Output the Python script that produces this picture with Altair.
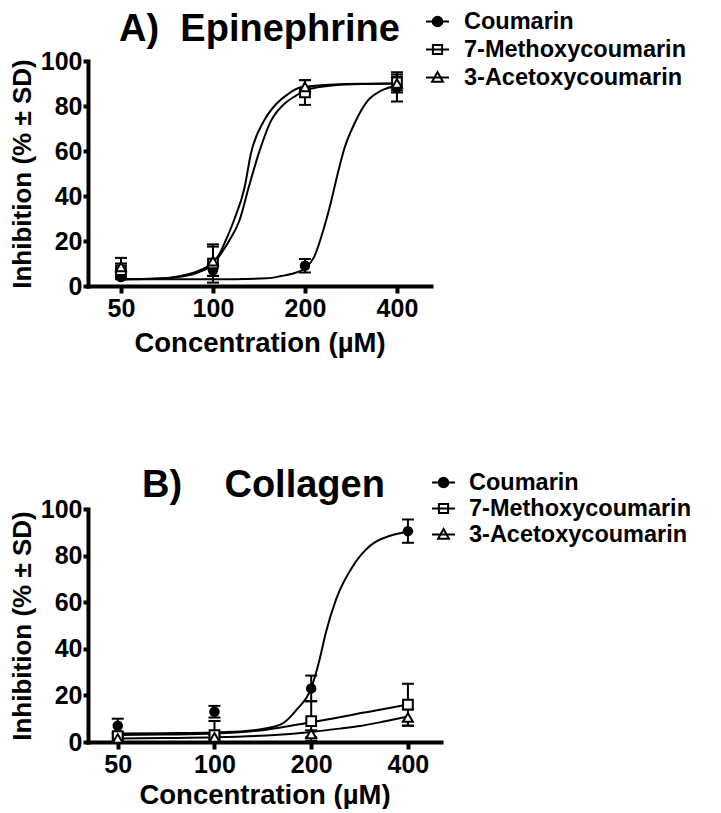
import altair as alt
import pandas as pd

FONT = "Liberation Sans"

SERIES = ["Coumarin", "7-Methoxycoumarin", "3-Acetoxycoumarin"]
CONC = [50, 100, 200, 400]
Y_TICKS = [0, 20, 40, 60, 80, 100]

# ---------- Panel A: Epinephrine (mean, SD) ----------
A_COU = [4, 7, 9, 88]
A_COU_SD = [1, 2.5, 3, 6]
A_MET = [7, 10, 86, 90.5]
A_MET_SD = [3, 8.5, 5.5, 4.5]
A_ACE = [8.5, 11, 88.5, 90]
A_ACE_SD = [4, 6.5, 3, 3]

# fitted curves
A_COU_CX = [50, 100, 150, 167, 185, 200, 214, 231, 243, 255, 269, 290, 321, 355, 400]
A_COU_CY = [3.0, 3.0, 3.4, 4.4, 5.8, 7.8, 12.7, 26, 37, 49, 61, 72, 82.4, 86.8, 89]
A_MET_CX = [50, 65, 79, 90, 100, 106, 113, 122, 131, 141, 155, 171, 187, 200, 250, 320, 400]
A_MET_CY = [3.0, 3.2, 4.2, 6.2, 9.8, 14.2, 20.1, 29, 44, 58.7, 73.5, 80.9, 84.6, 86.9, 89.2, 89.8, 90]
A_ACE_CX = [50, 65, 79, 90, 100, 105, 110, 117, 127, 133, 147, 161, 176, 194, 250, 320, 400]
A_ACE_CY = [3.0, 3.3, 4.6, 6.8, 10.5, 14.2, 20.1, 29, 44, 58.7, 73.5, 80.9, 85.3, 88.3, 89.6, 89.9, 90]

# ---------- Panel B: Collagen (mean, SD) ----------
B_COU = [7, 13, 23, 90.5]
B_COU_SD = [3, 2.5, 5.5, 5]
B_MET = [2.5, 3, 9, 16]
B_MET_SD = [1, 6, 8.5, 9]
B_ACE = [1.5, 2, 3.5, 10.5]
B_ACE_SD = [1, 1, 1.5, 3.5]

B_COU_CX = [50, 70, 100, 125, 145, 163, 180, 200, 212, 222, 239, 270, 305, 352, 400]
B_COU_CY = [3.6, 3.8, 4.1, 4.7, 5.9, 8.0, 13.8, 23.1, 35, 46.8, 61.2, 75.6, 84.2, 88.5, 90.2]
B_MET_CX = [50, 70, 100, 145, 200, 250, 283, 340, 400]
B_MET_CY = [3.0, 3.2, 3.6, 5.3, 8.5, 10.8, 12.3, 14.3, 16.1]
B_ACE_CX = [50, 70, 100, 145, 200, 250, 284, 340, 400]
B_ACE_CY = [1.5, 1.7, 2.0, 2.8, 4.3, 5.9, 6.9, 8.9, 10.9]

# legend symbols: line with marker
LEGEND_SHAPES = [
    "M-1,0L1,0M-0.42,0A0.42,0.42,0,1,0,0.42,0A0.42,0.42,0,1,0,-0.42,0Z",
    "M-1,0L1,0M-0.4,-0.4L0.4,-0.4L0.4,0.4L-0.4,0.4Z",
    "M-1,0L1,0M0,-0.48L0.47,0.36L-0.47,0.36Z",
]
LEGEND_FILLS = ["black", "white", "white"]
LEGEND_STROKES = ["black", "black", "black"]


def pts_frame(means, sds):
    rows = []
    for name, m, s in zip(SERIES, means, sds):
        for c, v, e in zip(CONC, m, s):
            rows.append({"series": name, "conc": c, "value": v, "lo": v - e, "hi": v + e})
    return pd.DataFrame(rows)


def curve_frame(xs_list, ys_list):
    rows = []
    for name, xs, ys in zip(SERIES, xs_list, ys_list):
        for c, v in zip(xs, ys):
            rows.append({"series": name, "conc": c, "value": v})
    return pd.DataFrame(rows)


def panel(title, title_offset, title_dx, pts, curves, xdom, w, h, xtitle_pad,
          leg_x, leg_y, leg_rowpad, leg_lo):
    xaxis = alt.Axis(values=CONC, format="d", title="Concentration (µM)", labelFlush=False,
                     tickSize=7, labelPadding=3, titlePadding=xtitle_pad, titleFontSize=27.5,
                     domainCap="square")
    yaxis = alt.Axis(values=Y_TICKS, title="Inhibition (% ± SD)", tickSize=5, labelPadding=1,
                     titlePadding=5, titleFontSize=26, domainCap="square")
    xs = alt.Scale(type="log", domain=xdom, nice=False)
    ys = alt.Scale(domain=[0, 100], nice=False, zero=False)
    X = alt.X("conc:Q", scale=xs, axis=xaxis)
    Yv = alt.Y("value:Q", scale=ys, axis=yaxis)

    base = alt.Chart(pts)
    rule = base.mark_rule(color="black", strokeWidth=2, clip=True).encode(
        X, alt.Y("lo:Q", scale=ys, axis=yaxis), alt.Y2("hi:Q"))
    cap_hi = base.mark_tick(orient="horizontal", size=12, thickness=2, color="black",
                            opacity=1, clip=True).encode(X, alt.Y("hi:Q", scale=ys, axis=yaxis))
    cap_lo = base.mark_tick(orient="horizontal", size=12, thickness=2, color="black",
                            opacity=1, clip=True).encode(X, alt.Y("lo:Q", scale=ys, axis=yaxis))
    line = alt.Chart(curves).mark_line(color="black", strokeWidth=2, interpolate="monotone").encode(
        X, Yv, detail="series:N")
    p_cou = base.transform_filter(alt.datum.series == SERIES[0]).mark_point(
        shape="circle", filled=True, color="black", size=110, opacity=1).encode(X, Yv)
    p_met = base.transform_filter(alt.datum.series == SERIES[1]).mark_point(
        shape="square", filled=True, fill="white", stroke="black", strokeWidth=2, size=95,
        opacity=1).encode(X, Yv)
    p_ace = base.transform_filter(alt.datum.series == SERIES[2]).mark_point(
        shape="triangle-up", filled=True, fill="white", stroke="black", strokeWidth=2, size=100,
        opacity=1).encode(X, Yv)

    legend = alt.Legend(orient="none", legendX=leg_x, legendY=leg_y, title=None,
                        symbolSize=529, symbolStrokeWidth=2, symbolOpacity=1,
                        rowPadding=leg_rowpad, labelOffset=leg_lo, padding=0, labelLimit=500)
    leg = base.mark_point(filled=True, strokeWidth=2, opacity=0).encode(
        X, Yv,
        shape=alt.Shape("series:N", scale=alt.Scale(domain=SERIES, range=LEGEND_SHAPES),
                        legend=legend),
        fill=alt.Fill("series:N", scale=alt.Scale(domain=SERIES, range=LEGEND_FILLS),
                      legend=legend),
        stroke=alt.Stroke("series:N", scale=alt.Scale(domain=SERIES, range=LEGEND_STROKES),
                          legend=legend),
    )

    return alt.layer(rule, cap_hi, cap_lo, line, p_cou, p_met, p_ace, leg).properties(
        width=w, height=h,
        title=alt.Title(title, anchor="middle", frame="group", offset=title_offset, dx=title_dx),
    )


pa = panel("A)\u00a0\u00a0Epinephrine", -40, 0,
           pts_frame([A_COU, A_MET, A_ACE], [A_COU_SD, A_MET_SD, A_ACE_SD]),
           curve_frame([A_COU_CX, A_MET_CX, A_ACE_CX], [A_COU_CY, A_MET_CY, A_ACE_CY]),
           [39, 517], 343, 225, 8, 337, -52, 4, 14)
pb = panel("B)\u00a0\u00a0\u00a0\u00a0Collagen", -35, -1,
           pts_frame([B_COU, B_MET, B_ACE], [B_COU_SD, B_MET_SD, B_ACE_SD]),
           curve_frame([B_COU_CX, B_MET_CX, B_ACE_CX], [B_COU_CY, B_MET_CY, B_ACE_CY]),
           [40.4, 507], 353, 233, 4, 343, -39, 2, 13)

chart = alt.vconcat(pa, pb, spacing=110).resolve_scale(
    shape="independent", fill="independent", stroke="independent"
).properties(
    padding={"left": 1, "top": 1, "right": 5, "bottom": 0}
).configure(font=FONT).configure_view(stroke=None).configure_axis(
    labelFont=FONT, labelFontSize=25, labelFontWeight="bold", labelColor="black",
    titleFont=FONT, titleFontWeight="bold", titleColor="black",
    domainColor="black", domainWidth=4, tickColor="black", tickWidth=4, grid=False,
).configure_legend(
    labelFont=FONT, labelFontSize=23.5, labelFontWeight="bold", labelColor="black",
).configure_title(
    font=FONT, fontSize=38, fontWeight="bold", color="black",
)

chart.save("out.html", embed_options={"renderer": "svg", "actions": False})
